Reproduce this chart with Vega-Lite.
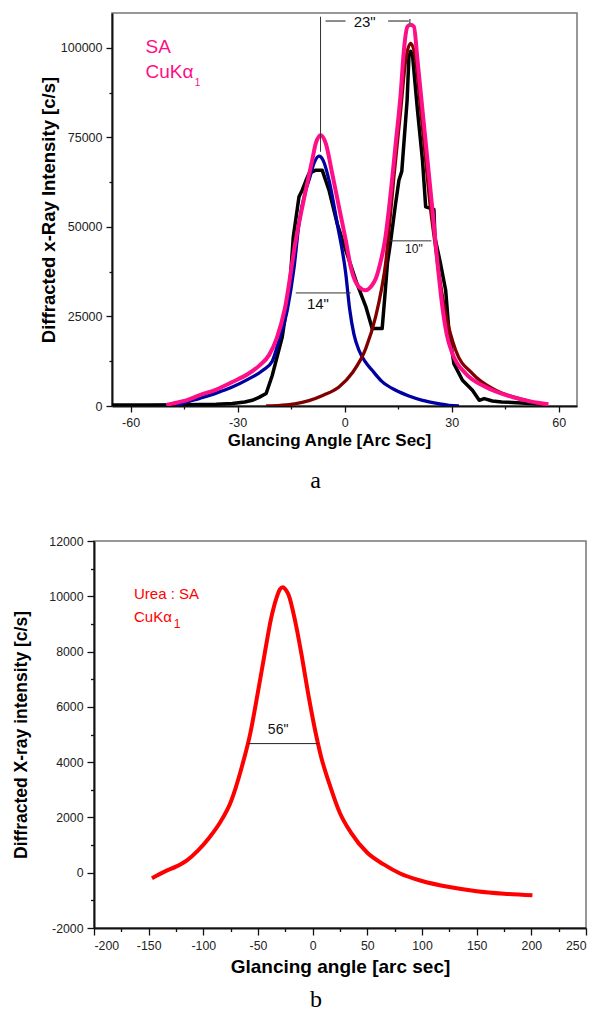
{
  "$schema": "https://vega.github.io/schema/vega-lite/v6.json",
  "padding": {"left": 12, "top": 12, "right": 0, "bottom": 0},
  "spacing": 40,
  "config": {
    "view": {"stroke": "#777", "strokeWidth": 1.5},
    "axis": {"domainColor": "#111", "domainWidth": 2, "tickColor": "#111", "tickWidth": 1.3, "labelFont": "Liberation Sans", "labelColor": "#222", "titleFont": "Liberation Sans", "titleFontWeight": "bold", "titleColor": "#000", "grid": false},
    "text": {"font": "Liberation Sans"}
  },
  "datasets": {
    "a_curves": [
      {"s":"black","x":-65.2,"y":300},{"s":"black","x":-55,"y":300},{"s":"black","x":-45,"y":350},{"s":"black","x":-36,"y":500},{"s":"black","x":-31.5,"y":700},{"s":"black","x":-28,"y":1100},{"s":"black","x":-25.9,"y":1600},{"s":"black","x":-24,"y":2400},{"s":"black","x":-22,"y":3500},{"s":"black","x":-20.3,"y":8500},{"s":"black","x":-17.5,"y":19270},{"s":"black","x":-15.4,"y":33240},{"s":"black","x":-14.4,"y":47200},{"s":"black","x":-12.8,"y":58380},{"s":"black","x":-11.9,"y":60250},{"s":"black","x":-10.9,"y":62800},{"s":"black","x":-10,"y":64900},{"s":"black","x":-8.1,"y":65840},{"s":"black","x":-6.3,"y":65840},{"s":"black","x":-4.4,"y":60250},{"s":"black","x":-2.1,"y":50950},{"s":"black","x":0.3,"y":43500},{"s":"black","x":3.5,"y":34000},{"s":"black","x":6.0,"y":27500},{"s":"black","x":7.7,"y":21620},{"s":"black","x":10.5,"y":21620},{"s":"black","x":11.2,"y":30000},{"s":"black","x":12.0,"y":40000},{"s":"black","x":12.8,"y":45360},{"s":"black","x":14.2,"y":56000},{"s":"black","x":15.2,"y":63000},{"s":"black","x":16.0,"y":65500},{"s":"black","x":17.5,"y":85400},{"s":"black","x":18.0,"y":97500},{"s":"black","x":18.5,"y":99000},{"s":"black","x":19.0,"y":98000},{"s":"black","x":20.4,"y":82600},{"s":"black","x":21.8,"y":68600},{"s":"black","x":22.7,"y":55600},{"s":"black","x":25.0,"y":54900},{"s":"black","x":25.3,"y":47000},{"s":"black","x":26.8,"y":40000},{"s":"black","x":28.3,"y":32300},{"s":"black","x":29.2,"y":21150},{"s":"black","x":30.6,"y":11840},{"s":"black","x":33.0,"y":7180},{"s":"black","x":35.8,"y":4390},{"s":"black","x":37.7,"y":1590},{"s":"black","x":39.1,"y":2070},{"s":"black","x":41.4,"y":1400},{"s":"black","x":44,"y":1100},{"s":"black","x":47,"y":1000},{"s":"black","x":52,"y":700},{"s":"black","x":56,"y":500},
      {"s":"blue","x":-47,"y":0},{"s":"blue","x":-45.5,"y":670},{"s":"blue","x":-40.8,"y":2070},{"s":"blue","x":-36,"y":3600},{"s":"blue","x":-31.5,"y":5300},{"s":"blue","x":-27,"y":7500},{"s":"blue","x":-23,"y":9900},{"s":"blue","x":-20.3,"y":12500},{"s":"blue","x":-18.5,"y":18000},{"s":"blue","x":-16.1,"y":26700},{"s":"blue","x":-14.2,"y":38500},{"s":"blue","x":-12.8,"y":50950},{"s":"blue","x":-10.9,"y":60250},{"s":"blue","x":-10,"y":63050},{"s":"blue","x":-8.5,"y":68000},{"s":"blue","x":-7.2,"y":69750},{"s":"blue","x":-6,"y":68500},{"s":"blue","x":-4.4,"y":63050},{"s":"blue","x":-2.1,"y":50950},{"s":"blue","x":0.3,"y":37000},{"s":"blue","x":1.4,"y":27000},{"s":"blue","x":2.6,"y":20000},{"s":"blue","x":4.0,"y":15560},{"s":"blue","x":5.8,"y":12300},{"s":"blue","x":7.7,"y":9970},{"s":"blue","x":10.5,"y":6800},{"s":"blue","x":14.3,"y":4390},{"s":"blue","x":18,"y":2800},{"s":"blue","x":21.8,"y":1590},{"s":"blue","x":25.5,"y":800},{"s":"blue","x":29.2,"y":200},{"s":"blue","x":32,"y":0},
      {"s":"wine","x":-22,"y":0},{"s":"wine","x":-18,"y":200},{"s":"wine","x":-14,"y":600},{"s":"wine","x":-10,"y":1500},{"s":"wine","x":-6,"y":3000},{"s":"wine","x":-1.6,"y":5300},{"s":"wine","x":2.1,"y":9200},{"s":"wine","x":5.9,"y":16000},{"s":"wine","x":8.7,"y":25000},{"s":"wine","x":10.3,"y":32500},{"s":"wine","x":11.5,"y":40000},{"s":"wine","x":12.4,"y":49000},{"s":"wine","x":13.8,"y":64000},{"s":"wine","x":15.7,"y":82600},{"s":"wine","x":17.1,"y":96560},{"s":"wine","x":18.5,"y":101200},{"s":"wine","x":19.9,"y":96560},{"s":"wine","x":21.3,"y":82600},{"s":"wine","x":22.7,"y":68600},{"s":"wine","x":24.1,"y":54660},{"s":"wine","x":25.5,"y":44000},{"s":"wine","x":26.4,"y":37000},{"s":"wine","x":28.3,"y":25800},{"s":"wine","x":31.1,"y":15560},{"s":"wine","x":35.8,"y":9050},{"s":"wine","x":42.3,"y":4390},{"s":"wine","x":48.9,"y":2070},{"s":"wine","x":54.5,"y":670},{"s":"wine","x":56.4,"y":200},
      {"s":"pink","x":-50,"y":300},{"s":"pink","x":-48.3,"y":670},{"s":"pink","x":-44,"y":1700},{"s":"pink","x":-40.8,"y":2990},{"s":"pink","x":-36,"y":4600},{"s":"pink","x":-31.5,"y":6700},{"s":"pink","x":-27,"y":9000},{"s":"pink","x":-24,"y":11200},{"s":"pink","x":-21.2,"y":14200},{"s":"pink","x":-19,"y":19000},{"s":"pink","x":-16.8,"y":27000},{"s":"pink","x":-13.7,"y":46300},{"s":"pink","x":-10.9,"y":60250},{"s":"pink","x":-9.1,"y":68600},{"s":"pink","x":-8.1,"y":73300},{"s":"pink","x":-6.7,"y":75600},{"s":"pink","x":-5.3,"y":73300},{"s":"pink","x":-3.5,"y":64900},{"s":"pink","x":-1.6,"y":55600},{"s":"pink","x":0.3,"y":46300},{"s":"pink","x":1.7,"y":38800},{"s":"pink","x":4.0,"y":33240},{"s":"pink","x":5.9,"y":32300},{"s":"pink","x":7.5,"y":33500},{"s":"pink","x":8.7,"y":35500},{"s":"pink","x":10.0,"y":40000},{"s":"pink","x":11.3,"y":46300},{"s":"pink","x":12.4,"y":55000},{"s":"pink","x":14.3,"y":73300},{"s":"pink","x":15.7,"y":87250},{"s":"pink","x":16.6,"y":99350},{"s":"pink","x":17.6,"y":105900},{"s":"pink","x":18.4,"y":106400},{"s":"pink","x":19.4,"y":105900},{"s":"pink","x":20.4,"y":96560},{"s":"pink","x":21.8,"y":82600},{"s":"pink","x":23.2,"y":68600},{"s":"pink","x":24.6,"y":54660},{"s":"pink","x":25.8,"y":42000},{"s":"pink","x":27.4,"y":27500},{"s":"pink","x":28.6,"y":20000},{"s":"pink","x":30.2,"y":14640},{"s":"pink","x":33.9,"y":9050},{"s":"pink","x":39.5,"y":5300},{"s":"pink","x":47.0,"y":2510},{"s":"pink","x":52,"y":1300},{"s":"pink","x":57.1,"y":470}
    ],
    "a_rules": [
      {"x":-13.7,"x2":1.7,"y":31560,"y2":31560},
      {"x":12.37,"x2":24.3,"y":46100,"y2":46100},
      {"x":-6.77,"x2":-6.77,"y":108660,"y2":70950}
    ],
    "a_dims": [
      {"x":-5.37,"x2":0.24,"y":107460,"y2":107460},
      {"x":12.17,"x2":17.97,"y":107460,"y2":107460},
      {"x":18.26,"x2":18.26,"y":108000,"y2":105870}
    ],
    "a_big": [{"x":-55.8,"y":98600,"t":"SA"},{"x":-55.8,"y":91540,"t":"CuKα"}],
    "a_sub": [{"x":-42,"y":89300,"t":"1"}],
    "a_ann15": [{"x":5.6,"y":105900,"t":"23\""},{"x":-7.5,"y":27150,"t":"14\""}],
    "a_ann12": [{"x":19.4,"y":42600,"t":"10\""}],
    "b_curve": [
      {"x":-147,"y":-200},{"x":-135,"y":50},{"x":-125,"y":220},{"x":-115,"y":450},{"x":-105,"y":800},{"x":-95,"y":1250},{"x":-85,"y":1800},{"x":-75,"y":2550},{"x":-65,"y":3800},{"x":-57,"y":5050},{"x":-50,"y":6550},{"x":-44,"y":7900},{"x":-38,"y":9200},{"x":-33,"y":9950},{"x":-30,"y":10250},{"x":-27.3,"y":10330},{"x":-24,"y":10200},{"x":-22,"y":10050},{"x":-16,"y":9100},{"x":-10,"y":7850},{"x":-4,"y":6450},{"x":2,"y":5200},{"x":8,"y":4150},{"x":15,"y":3250},{"x":25,"y":2150},{"x":35,"y":1450},{"x":50,"y":720},{"x":65,"y":300},{"x":80,"y":-30},{"x":100,"y":-300},{"x":125,"y":-520},{"x":150,"y":-670},{"x":175,"y":-760},{"x":201,"y":-815}
    ],
    "b_rule": [{"x":-59.1,"x2":5.3,"y":4671,"y2":4671}],
    "b_big": [{"x":-163.4,"y":9891,"t":"Urea : SA"},{"x":-163.4,"y":9070,"t":"CuKα"}],
    "b_sub": [{"x":-127,"y":8842,"t":"1"}],
    "b_ann": [{"x":-31.6,"y":5007,"t":"56\""}]
  },
  "vconcat": [
    {
      "spacing": 0,
      "bounds": "flush",
      "hconcat": [
        {"width": 18, "height": 393, "view": {"stroke": null}, "data": {"values": [{"v": 1}]}, "mark": {"type": "point", "opacity": 0}, "encoding": {}},
        {
          "width": 465,
          "height": 393,
          "title": {"text": "a", "orient": "bottom", "anchor": "middle", "frame": "group", "dx": -29, "offset": 20, "font": "Liberation Serif", "fontSize": 24, "fontWeight": "normal", "color": "#000"},
          "encoding": {
            "x": {"field": "x", "type": "quantitative", "scale": {"domain": [-65.2, 65.1], "nice": false, "zero": false},
              "axis": {"values": [-60,-45,-30,-15,0,15,30,45,60], "labelExpr": "datum.value % 30 === 0 ? '' + datum.value : ''", "tickSize": {"condition": {"test": "datum.value % 30 === 0", "value": 6}, "value": 3}, "labelPadding": 4, "labelFontSize": 12.5, "title": "Glancing Angle [Arc Sec]", "titleFontSize": 17, "titlePadding": 4, "titleX": 217}},
            "y": {"field": "y", "type": "quantitative", "scale": {"domain": [0, 109700], "nice": false},
              "axis": {"values": [0,12500,25000,37500,50000,62500,75000,87500,100000], "labelExpr": "datum.value % 25000 === 0 ? '' + datum.value : ''", "tickSize": {"condition": {"test": "datum.value % 25000 === 0", "value": 6}, "value": 3}, "labelPadding": 4, "labelFontSize": 12.5, "title": "Diffracted x-Ray Intensity [c/s]", "titleFontSize": 18.5, "titlePadding": 2}}
          },
          "layer": [
            {"data": {"name": "a_curves"}, "transform": [{"filter": "datum.s === 'black'"}], "mark": {"type": "line", "color": "#000", "strokeWidth": 3.5, "strokeJoin": "round", "clip": true}},
            {"data": {"name": "a_curves"}, "transform": [{"filter": "datum.s === 'blue'"}], "mark": {"type": "line", "color": "#0000a0", "strokeWidth": 3.3, "interpolate": "monotone", "strokeJoin": "round", "clip": true}},
            {"data": {"name": "a_curves"}, "transform": [{"filter": "datum.s === 'wine'"}], "mark": {"type": "line", "color": "#800000", "strokeWidth": 3.3, "interpolate": "monotone", "strokeJoin": "round", "clip": true}},
            {"data": {"name": "a_curves"}, "transform": [{"filter": "datum.s === 'pink'"}], "mark": {"type": "line", "color": "#ff0f87", "strokeWidth": 4, "interpolate": "monotone", "strokeJoin": "round", "clip": true}},
            {"data": {"name": "a_rules"}, "mark": {"type": "rule", "color": "#333", "strokeWidth": 1}, "encoding": {"x2": {"field": "x2"}, "y2": {"field": "y2"}}},
            {"data": {"name": "a_dims"}, "mark": {"type": "rule", "color": "#666", "strokeWidth": 1.5}, "encoding": {"x2": {"field": "x2"}, "y2": {"field": "y2"}}},
            {"data": {"name": "a_big"}, "mark": {"type": "text", "align": "left", "baseline": "alphabetic", "fontSize": 19, "color": "#ff0f87"}, "encoding": {"text": {"field": "t"}}},
            {"data": {"name": "a_sub"}, "mark": {"type": "text", "align": "left", "baseline": "alphabetic", "fontSize": 10, "color": "#ff0f87"}, "encoding": {"text": {"field": "t"}}},
            {"data": {"name": "a_ann15"}, "mark": {"type": "text", "align": "center", "baseline": "alphabetic", "fontSize": 15, "color": "#111"}, "encoding": {"text": {"field": "t"}}},
            {"data": {"name": "a_ann12"}, "mark": {"type": "text", "align": "center", "baseline": "alphabetic", "fontSize": 12, "color": "#111"}, "encoding": {"text": {"field": "t"}}}
          ]
        }
      ]
    },
    {
      "width": 492,
      "height": 387,
      "title": {"text": "b", "orient": "bottom", "anchor": "middle", "frame": "group", "dx": -24, "offset": 12, "font": "Liberation Serif", "fontSize": 24, "fontWeight": "normal", "color": "#000"},
      "encoding": {
        "x": {"field": "x", "type": "quantitative", "scale": {"domain": [-200, 250], "nice": false, "zero": false},
          "axis": {"values": [-200,-175,-150,-125,-100,-75,-50,-25,0,25,50,75,100,125,150,175,200,225,250], "labelExpr": "datum.value % 50 === 0 ? '' + datum.value : ''", "tickSize": {"condition": {"test": "datum.value % 50 === 0", "value": 7}, "value": 3.5}, "labelPadding": 4, "labelFontSize": 12.3, "title": "Glancing angle [arc sec]", "titleFontSize": 19, "titlePadding": 6}},
        "y": {"field": "y", "type": "quantitative", "scale": {"domain": [-2000, 12000], "nice": false, "zero": false},
          "axis": {"values": [-2000,-1000,0,1000,2000,3000,4000,5000,6000,7000,8000,9000,10000,11000,12000], "labelExpr": "datum.value % 2000 === 0 ? '' + datum.value : ''", "tickSize": {"condition": {"test": "datum.value % 2000 === 0", "value": 7}, "value": 3.5}, "labelPadding": 4, "labelFontSize": 12.3, "title": "Diffracted X-ray intensity [c/s]", "titleFontSize": 17.5, "titlePadding": 18}}
      },
      "layer": [
        {"data": {"name": "b_curve"}, "mark": {"type": "line", "color": "#ff0000", "strokeWidth": 4, "interpolate": "monotone", "strokeJoin": "round"}},
        {"data": {"name": "b_rule"}, "mark": {"type": "rule", "color": "#222", "strokeWidth": 1}, "encoding": {"x2": {"field": "x2"}, "y2": {"field": "y2"}}},
        {"data": {"name": "b_big"}, "mark": {"type": "text", "align": "left", "baseline": "alphabetic", "fontSize": 15, "color": "#ff0000"}, "encoding": {"text": {"field": "t"}}},
        {"data": {"name": "b_sub"}, "mark": {"type": "text", "align": "left", "baseline": "alphabetic", "fontSize": 12, "color": "#ff0000"}, "encoding": {"text": {"field": "t"}}},
        {"data": {"name": "b_ann"}, "mark": {"type": "text", "align": "center", "baseline": "alphabetic", "fontSize": 14, "color": "#111"}, "encoding": {"text": {"field": "t"}}}
      ]
    }
  ]
}
